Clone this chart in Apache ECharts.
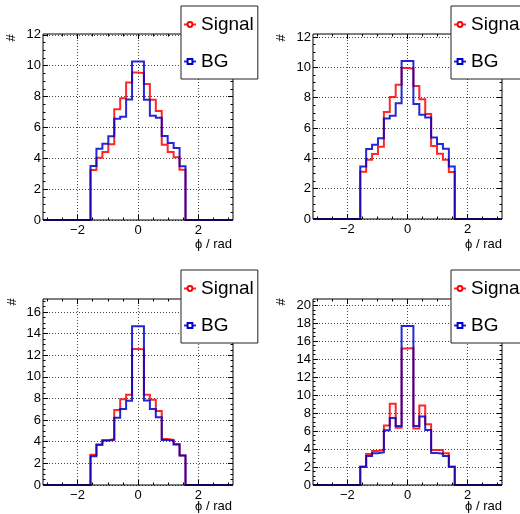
<!DOCTYPE html>
<html><head><meta charset="utf-8">
<script src="https://cdn.jsdelivr.net/npm/echarts@6/dist/echarts.min.js"></script>
<style>html,body{margin:0;padding:0;background:#fff}#c{width:520px;height:514px}</style>
</head><body><div id="c"></div>
<script>
// ---- binning of the histograms (32 bins over [-pi, pi]) ----
const N_BINS = 32;
const X_MIN = -Math.PI, X_MAX = Math.PI;
const FIRST_FILLED_BIN = 8;          // bins 8..23 carry entries
const seriesNames = ['Signal', 'BG'];
const xAxisTitle = '\u03d5 / rad';
const yAxisTitle = '#';

// ---- tick labels ----
const xMajorTicks = [-2, 0, 2];
const xMinorTicks = [-3, -2.5, -1.5, -1, -0.5, 0.5, 1, 1.5, 2.5, 3];
const yMajorTicks1 = [0, 2, 4, 6, 8, 10, 12];
const yMajorTicks2 = [0, 2, 4, 6, 8, 10, 12];
const yMajorTicks3 = [0, 2, 4, 6, 8, 10, 12, 14, 16];
const yMajorTicks4 = [0, 2, 4, 6, 8, 10, 12, 14, 16, 18, 20];
const yMax = [12.05, 12.2, 17.2, 20.7];

// ---- bin contents of filled bins (8..23) ----
const signal1 = [3.24, 4.04, 4.40, 4.90, 7.17, 7.88, 8.91, 9.56, 9.52, 8.81, 7.79, 7.06, 4.88, 4.40, 4.06, 3.26];
const bg1     = [3.50, 4.62, 4.94, 5.42, 6.56, 6.69, 7.81, 10.27, 10.27, 7.79, 6.76, 6.63, 5.44, 4.99, 4.66, 3.48];
const signal2 = [3.12, 3.91, 4.29, 4.77, 7.05, 8.04, 8.86, 9.96, 9.91, 8.77, 7.89, 6.92, 4.81, 4.31, 3.91, 3.10];
const bg2     = [3.47, 4.62, 4.90, 5.32, 6.62, 6.81, 7.63, 10.42, 10.42, 7.58, 6.88, 6.70, 5.38, 4.95, 4.64, 3.47];
const signal3 = [2.79, 3.71, 4.14, 4.26, 6.93, 7.94, 8.34, 12.58, 12.55, 8.34, 7.88, 6.84, 4.26, 4.17, 3.74, 2.73];
const bg3     = [2.67, 3.74, 4.11, 4.17, 6.23, 7.02, 7.79, 14.69, 14.69, 7.82, 7.02, 6.26, 4.17, 4.11, 3.77, 2.73];
const signal4 = [2.04, 3.46, 3.79, 3.94, 6.62, 9.03, 6.36, 15.20, 15.24, 6.28, 8.85, 6.77, 3.90, 3.90, 3.53, 2.04];
const bg4     = [2.04, 3.23, 3.53, 3.64, 6.10, 7.47, 6.58, 17.70, 17.70, 6.58, 7.62, 6.13, 3.57, 3.49, 3.23, 2.04];

const panels = [
  {sig: signal1, bg: bg1, yTicks: yMajorTicks1, yMax: yMax[0]},
  {sig: signal2, bg: bg2, yTicks: yMajorTicks2, yMax: yMax[1]},
  {sig: signal3, bg: bg3, yTicks: yMajorTicks3, yMax: yMax[2]},
  {sig: signal4, bg: bg4, yTicks: yMajorTicks4, yMax: yMax[3]}
];

// layout (pixels)
const layout = [
  {left: 43, top: 34, width: 190, height: 186, legL: 181, legT: 6, hashX: 11, hashY: 38, xtR: 232, xtY: 244},
  {left: 313, top: 34, width: 189, height: 185, legL: 451, legT: 6, hashX: 281, hashY: 38, xtR: 502, xtY: 244},
  {left: 43, top: 299, width: 190, height: 186, legL: 181, legT: 270, hashX: 12, hashY: 302, xtR: 232, xtY: 506},
  {left: 313, top: 299, width: 189, height: 186, legL: 451, legT: 270, hashX: 281, hashY: 302, xtR: 502, xtY: 506}
];

const FONT = '"Liberation Sans", Arial, Helvetica, sans-serif';
const RED = '#ff0000', BLUE = '#0000cc';

function fullBins(filled) {
  const arr = new Array(N_BINS).fill(0);
  filled.forEach((v, i) => { arr[FIRST_FILLED_BIN + i] = v; });
  return arr;
}
function stepPoints(filled) {
  const vals = fullBins(filled);
  const w = (X_MAX - X_MIN) / N_BINS;
  const pts = [];
  for (let k = 0; k < N_BINS; k++) {
    pts.push([X_MIN + k * w, vals[k]]);
    pts.push([X_MIN + (k + 1) * w, vals[k]]);
  }
  return pts;
}
function minorOf(major, step, max) {
  const out = [];
  for (let v = 0; v <= max + 1e-9; v += step) {
    if (!major.some(m => Math.abs(m - v) < 1e-9)) out.push(Math.round(v * 100) / 100);
  }
  return out;
}
const fmt = v => (v < 0 ? '\u2212' + Math.abs(v) : String(v));

const grid = [], xAxis = [], yAxis = [], series = [], legend = [], graphic = [];
const dotted = {show: true, lineStyle: {color: '#444', width: 1, type: [1, 2]}};
const tickLine = {color: '#000', width: 1};
const noLine = {show: false, onZero: false};

panels.forEach((p, i) => {
  const L = layout[i];
  const gA = grid.length;
  grid.push({left: L.left, top: L.top, width: L.width, height: L.height, show: true,
             borderColor: '#000', borderWidth: 1, backgroundColor: 'transparent', z: 5});
  const gB = grid.length;
  grid.push({left: L.left, top: L.top, width: L.width, height: L.height, show: false});

  const xa = xAxis.length;
  xAxis.push({gridIndex: gA, type: 'value', min: X_MIN, max: X_MAX, position: 'bottom',
    axisLine: noLine,
    axisTick: {inside: true, length: 5, customValues: xMajorTicks, lineStyle: tickLine},
    axisLabel: {customValues: xMajorTicks, formatter: fmt, fontSize: 13, margin: 4, color: '#000', fontFamily: FONT},
    splitLine: dotted});
  xAxis.push({gridIndex: gA, type: 'value', min: X_MIN, max: X_MAX, position: 'top',
    axisLine: noLine,
    axisTick: {inside: true, length: 5, customValues: xMajorTicks, lineStyle: tickLine},
    axisLabel: {show: false}, splitLine: {show: false}});
  xAxis.push({gridIndex: gB, type: 'value', min: X_MIN, max: X_MAX, position: 'bottom',
    axisLine: noLine,
    axisTick: {inside: true, length: 2.5, customValues: xMinorTicks, lineStyle: tickLine},
    axisLabel: {show: false}, splitLine: {show: false}});
  xAxis.push({gridIndex: gB, type: 'value', min: X_MIN, max: X_MAX, position: 'top',
    axisLine: noLine,
    axisTick: {inside: true, length: 2.5, customValues: xMinorTicks, lineStyle: tickLine},
    axisLabel: {show: false}, splitLine: {show: false}});

  const ya = yAxis.length;
  const yMinor = minorOf(p.yTicks, 0.5, p.yMax);
  yAxis.push({gridIndex: gA, type: 'value', min: 0, max: p.yMax, position: 'left',
    axisLine: noLine,
    axisTick: {inside: true, length: 5, customValues: p.yTicks, lineStyle: tickLine},
    axisLabel: {customValues: p.yTicks, fontSize: 13, margin: 2, color: '#000', fontFamily: FONT},
    splitLine: dotted});
  yAxis.push({gridIndex: gA, type: 'value', min: 0, max: p.yMax, position: 'right',
    axisLine: noLine,
    axisTick: {inside: true, length: 5, customValues: p.yTicks, lineStyle: tickLine},
    axisLabel: {show: false}, splitLine: {show: false}});
  yAxis.push({gridIndex: gB, type: 'value', min: 0, max: p.yMax, position: 'left',
    axisLine: noLine,
    axisTick: {inside: true, length: 2.5, customValues: yMinor, lineStyle: tickLine},
    axisLabel: {show: false}, splitLine: {show: false}});
  yAxis.push({gridIndex: gB, type: 'value', min: 0, max: p.yMax, position: 'right',
    axisLine: noLine,
    axisTick: {inside: true, length: 2.5, customValues: yMinor, lineStyle: tickLine},
    axisLabel: {show: false}, splitLine: {show: false}});

  series.push({name: seriesNames[0], type: 'line', xAxisIndex: xa, yAxisIndex: ya,
    data: stepPoints(p.sig), showSymbol: false, symbol: 'circle', symbolSize: 5,
    lineStyle: {color: RED, width: 2, opacity: 0.85, join: 'miter'},
    itemStyle: {color: '#fff', borderColor: RED, borderWidth: 1.5},
    z: 3, animation: false});
  series.push({name: seriesNames[1], type: 'line', xAxisIndex: xa, yAxisIndex: ya,
    data: stepPoints(p.bg), showSymbol: false, symbol: 'rect', symbolSize: 5,
    lineStyle: {color: BLUE, width: 2, opacity: 0.85, join: 'miter'},
    itemStyle: {color: '#fff', borderColor: BLUE, borderWidth: 1.5},
    z: 4, animation: false});

  legend.push({left: L.legL, top: L.legT, orient: 'vertical', data: seriesNames.slice(),
    backgroundColor: '#fff', borderColor: '#222', borderWidth: 1, borderRadius: 0,
    padding: [9, 4, 8, 2], itemGap: 18, itemWidth: 12, itemHeight: 6, selectedMode: false,
    textStyle: {fontSize: 19, color: '#000', fontFamily: FONT}, z: 20});

  graphic.push({type: 'text', x: L.hashX, y: L.hashY, rotation: Math.PI / 2,
    style: {text: yAxisTitle, fontSize: 13, fontFamily: FONT, fill: '#000', align: 'center', verticalAlign: 'middle'}});
  graphic.push({type: 'text', x: L.xtR, y: L.xtY,
    style: {text: xAxisTitle, fontSize: 13, fontFamily: FONT, fill: '#000', align: 'right', verticalAlign: 'middle'}});
});

const chart = echarts.init(document.getElementById('c'), null, {renderer: 'canvas'});
chart.setOption({animation: false, backgroundColor: '#fff', grid, xAxis, yAxis, series, legend, graphic});
</script></body></html>
